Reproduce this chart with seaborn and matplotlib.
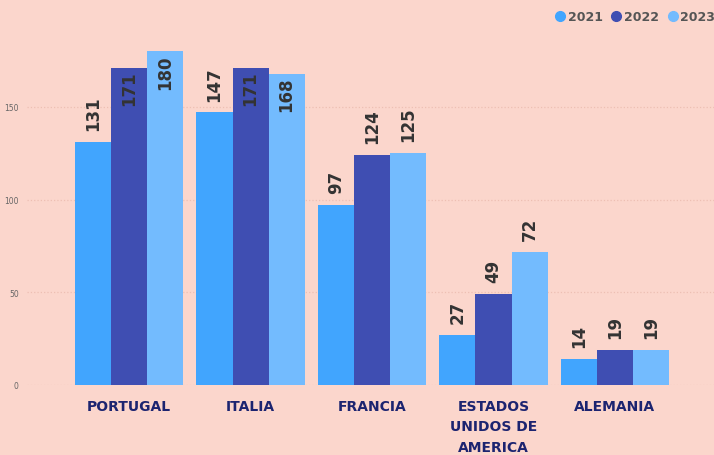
import pandas as pd
import matplotlib
matplotlib.use("Agg")
import matplotlib.pyplot as plt
from matplotlib.lines import Line2D
import seaborn as sns

# --------------------------------------------------
# DATA
# --------------------------------------------------

paises = ["PORTUGAL", "ITALIA", "FRANCIA", "ESTADOS\nUNIDOS DE\nAMERICA", "ALEMANIA"]
anios = ["2021", "2022", "2023"]
v2021 = [131, 147, 97, 27, 14]
v2022 = [171, 171, 124, 49, 19]
v2023 = [180, 168, 125, 72, 19]

colores = ["#41A5FE", "#3F4EB2", "#73BBFE"]
fondo = "#FBD6CC"

df = pd.DataFrame({
    "pais": paises * 3,
    "anio": [a for a in anios for _ in paises],
    "valor": v2021 + v2022 + v2023,
})

# --------------------------------------------------
# PLOT
# --------------------------------------------------

sns.set_style("white")
plt.rcParams["font.family"] = ["DejaVu Sans"]

fig = plt.figure(figsize=(7.14, 4.56), dpi=100, facecolor=fondo)
ax = fig.add_axes([27 / 714, 70 / 456, 687 / 714, 356 / 456])
ax.set_facecolor(fondo)

sns.barplot(data=df, x="pais", y="valor", hue="anio", order=paises,
            hue_order=anios, palette=colores, width=0.89, saturation=1,
            legend=False, ax=ax, linewidth=0)

ymax = 192
ax.set_ylim(0, ymax)
ax.set_xlim(-0.84, 4.815)
ax.set_yticks([0, 50, 100, 150])
ax.grid(axis="y", color="#EDBFB3", linestyle=":", linewidth=0.9)
ax.set_axisbelow(True)
for s in ax.spines.values():
    s.set_visible(False)

ax.set_xlabel("")
ax.set_ylabel("")
ax.tick_params(axis="y", length=0, pad=6, labelsize=5.5, labelcolor="#666666")
ax.tick_params(axis="x", length=0, pad=10)
for t in ax.get_xticklabels():
    t.set_fontsize(10)
    t.set_fontweight("bold")
    t.set_color("#1C2470")
    t.set_linespacing(1.6)
    t.set_verticalalignment("top")

# etiquetas de datos: fuera si caben, dentro si no
for cont in ax.containers:
    for bar in cont:
        h = bar.get_height()
        x = bar.get_x() + bar.get_width() / 2
        if h + 30 <= ymax:
            ax.annotate(f"{h:.0f}", (x, h), xytext=(0, 8.5), textcoords="offset points",
                        rotation=90, ha="center", va="bottom", fontsize=12,
                        fontweight="bold", color="#333333")
        else:
            ax.annotate(f"{h:.0f}", (x, h), xytext=(0, -2), textcoords="offset points",
                        rotation=90, ha="center", va="top", fontsize=12,
                        fontweight="bold", color="#333333")

handles = [Line2D([], [], marker="o", linestyle="", markersize=7,
                  markerfacecolor=c, markeredgecolor=c) for c in colores]
leg = fig.legend(handles, anios, loc="upper right", bbox_to_anchor=(1.017, 1.0),
                 ncol=3, frameon=False, handletextpad=0.0, columnspacing=0.5,
                 handlelength=1.2, prop={"weight": "bold", "size": 9})
for t in leg.get_texts():
    t.set_color("#555555")

fig.savefig("out.png", dpi=100, facecolor=fondo)
